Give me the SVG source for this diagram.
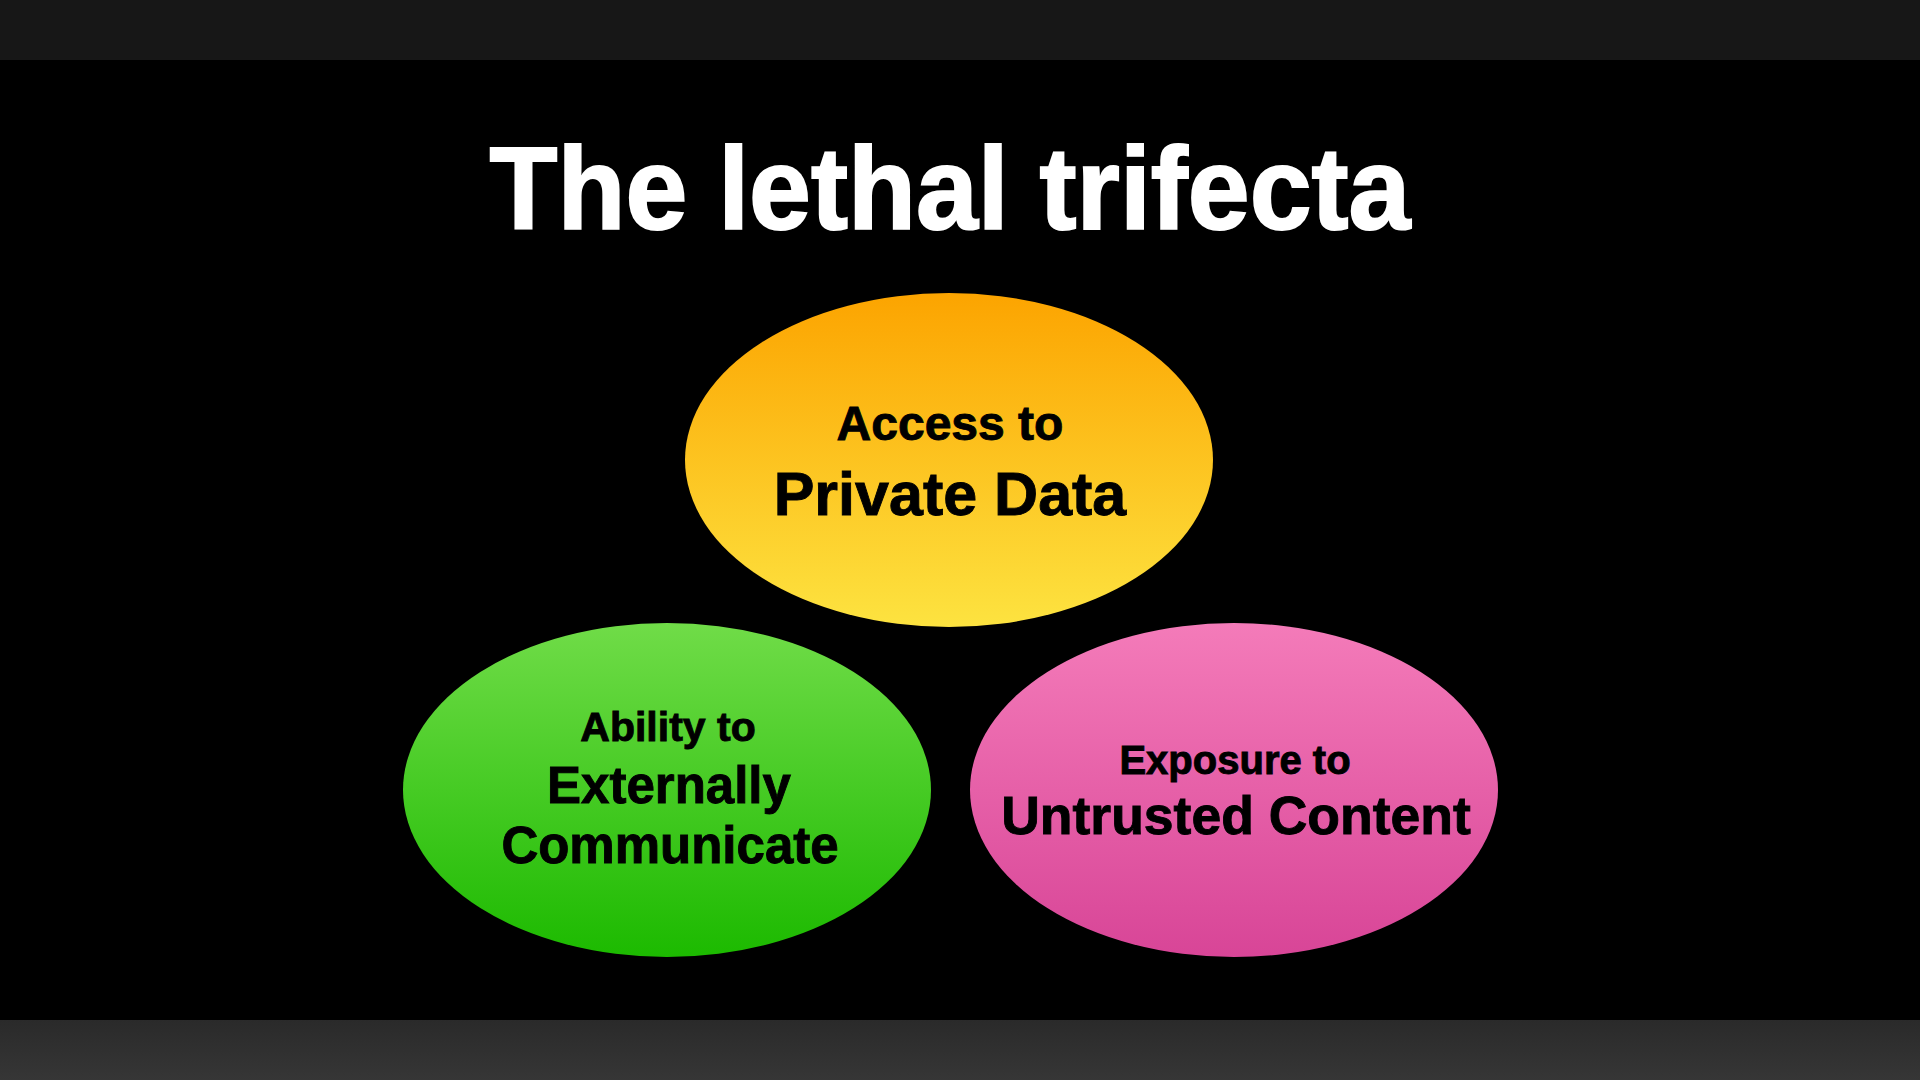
<svg xmlns="http://www.w3.org/2000/svg" width="1920" height="1080" viewBox="0 0 1920 1080">
<defs>
<linearGradient id="gOrange" x1="0" y1="0" x2="0" y2="1">
<stop offset="0" stop-color="#fca400"/>
<stop offset="1" stop-color="#fde340"/>
</linearGradient>
<linearGradient id="gGreen" x1="0" y1="0" x2="0" y2="1">
<stop offset="0" stop-color="#70dc48"/>
<stop offset="1" stop-color="#1cba00"/>
</linearGradient>
<linearGradient id="gPink" x1="0" y1="0" x2="0" y2="1">
<stop offset="0" stop-color="#f47bb9"/>
<stop offset="1" stop-color="#d84597"/>
</linearGradient>
<linearGradient id="gBottom" x1="0" y1="0" x2="0" y2="1">
<stop offset="0" stop-color="#2a2a2a"/>
<stop offset="1" stop-color="#363636"/>
</linearGradient>
</defs>
<style>
text{font-family:"Liberation Sans",Arial,Helvetica,sans-serif;font-weight:bold;text-anchor:middle}
.title{fill:#ffffff;stroke:#ffffff;stroke-width:2;font-size:116px}
.lbl{fill:#000000;stroke:#000000;stroke-width:0.9}
</style>
<rect x="0" y="0" width="1920" height="1080" fill="#000000"/>
<rect x="0" y="0" width="1920" height="60" fill="#171717"/>
<rect x="0" y="1020" width="1920" height="60" fill="url(#gBottom)"/>
<text class="title" x="950" y="229" textLength="921" lengthAdjust="spacingAndGlyphs">The lethal trifecta</text>
<g id="connectors"></g>
<g id="node-private-data">
<ellipse cx="949" cy="460" rx="264" ry="167" fill="url(#gOrange)"/>
<text class="lbl" x="950" y="440" font-size="48">Access to</text>
<text class="lbl" x="950" y="515" font-size="61">Private Data</text>
</g>
<g id="node-external-comm">
<ellipse cx="667" cy="790" rx="264" ry="167" fill="url(#gGreen)"/>
<text class="lbl" x="668" y="741" font-size="41">Ability to</text>
<text class="lbl" x="669" y="803" font-size="51">Externally</text>
<text class="lbl" x="670" y="863" font-size="51">Communicate</text>
</g>
<g id="node-untrusted">
<ellipse cx="1234" cy="790" rx="264" ry="167" fill="url(#gPink)"/>
<text class="lbl" x="1235" y="774" font-size="40">Exposure to</text>
<text class="lbl" x="1236" y="834" font-size="53.5">Untrusted Content</text>
</g>
</svg>
